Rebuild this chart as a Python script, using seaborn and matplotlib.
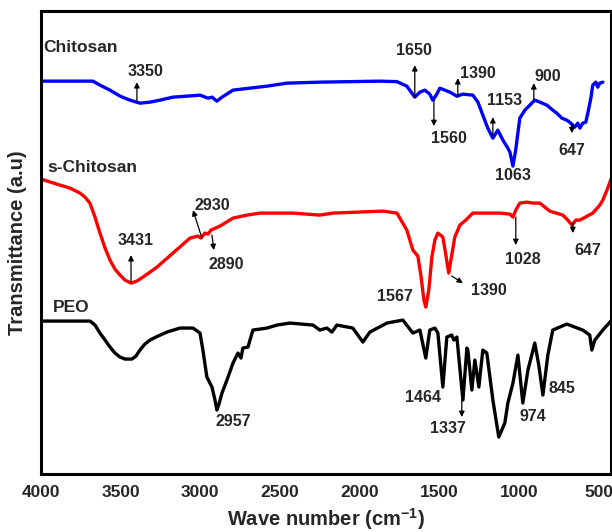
import matplotlib
matplotlib.use("Agg")
import matplotlib.pyplot as plt
import seaborn as sns
import pandas as pd

# ---------------- data ----------------
chitosan_w = [4000, 3674, 3630, 3567, 3504, 3442, 3379, 3316, 3253, 3172, 3084, 3002, 2952, 2927,
              2896, 2864, 2795, 2689, 2582, 2457, 2250, 1873, 1766, 1704, 1654, 1622, 1591, 1560,
              1541, 1516, 1497, 1434, 1390, 1352, 1290, 1258, 1227, 1196, 1164, 1133, 1101, 1070,
              1057, 1038, 1020, 995, 963, 932, 901, 869, 825, 788, 763, 731, 700, 675, 650, 631,
              618, 600, 581, 568, 549, 537, 518, 506, 493, 474]
chitosan_t = [393, 393, 389, 384, 378, 374, 371, 372, 374, 377, 378, 379, 376, 377,
              373, 377, 384, 386, 388, 391, 392, 393, 392.5, 388, 377, 382, 384, 380,
              374, 380, 386, 382, 378, 380, 379, 372, 359, 346, 336, 344, 334, 326,
              322, 308, 325, 356, 364, 369, 374, 372, 369, 364, 361, 356, 354, 351, 347, 351,
              346, 351, 352, 361, 376, 389, 392, 387, 391, 392]

schitosan_w = [4000, 3881, 3818, 3755, 3724, 3693, 3661, 3630, 3598, 3567, 3536, 3504, 3473, 3435,
               3398, 3360, 3316, 3272, 3222, 3172, 3115, 3065, 3015, 2996, 2971, 2952, 2933, 2877,
               2795, 2707, 2626, 2419, 2250, 2168, 1854, 1766, 1704, 1666, 1635, 1616, 1597, 1585,
               1566, 1547, 1528, 1509, 1478, 1459, 1441, 1422, 1403, 1371, 1334, 1290, 1120, 1057,
               1038, 1020, 995, 951, 913, 869, 807, 725, 694, 668, 643, 618, 537, 493, 474, 443, 418]
schitosan_t = [295, 289, 286, 281, 277, 271, 257, 241, 226, 214, 205, 199, 194, 191,
               193, 197, 202, 207, 214, 221, 229, 236, 238, 236, 241, 240, 244, 248,
               256, 259, 261, 261, 259, 261, 263, 261, 244, 224, 218, 199, 174, 167,
               184, 217, 234, 241, 237, 219, 201, 219, 237, 249, 254, 261, 261, 260,
               257, 264, 271, 272, 271, 271, 263, 259, 254, 249, 254, 254, 261, 269, 274, 286, 297]

peo_w = [4000, 3693, 3661, 3630, 3598, 3567, 3536, 3504, 3473, 3429, 3404, 3379, 3348, 3316,
         3266, 3209, 3128, 3046, 3002, 2984, 2959, 2927, 2908, 2896, 2883, 2864, 2833, 2795,
         2764, 2745, 2733, 2701, 2670, 2582, 2519, 2438, 2293, 2250, 2206, 2174, 2143, 2043,
         1980, 1936, 1829, 1729, 1666, 1622, 1585, 1560, 1528, 1509, 1478, 1453, 1422, 1409,
         1390, 1352, 1327, 1321, 1296, 1277, 1252, 1227, 1202, 1164, 1127, 1089, 1070, 1038,
         1007, 976, 944, 901, 876, 850, 819, 788, 700, 600, 556, 543, 524, 474, 418]
peo_t = [153, 153, 149, 141, 134, 127, 121, 117, 115, 115, 118, 124, 130, 134,
         138, 142, 146, 146, 141, 124, 97, 87, 74, 64, 70, 81, 94, 111,
         121, 116, 126, 127, 144, 146, 149, 151, 149, 144, 146, 142, 149, 146,
         132, 142, 151, 154, 141, 144, 116, 144, 146, 141, 87, 137, 139, 134,
         137, 74, 126, 124, 84, 114, 87, 124, 121, 74, 37, 51, 71, 91,
         119, 71, 104, 131, 109, 79, 119, 144, 150, 144, 139, 124, 134, 144, 154]

series_names = ["Chitosan", "s-Chitosan", "PEO"]
series_colors = ["#0000ff", "#ff0000", "#000000"]

xticks = [4000, 3500, 3000, 2500, 2000, 1500, 1000, 500]

# peak labels: (text, label_w, label_t, arrow_tail (w,t) or None, arrow_tip (w,t) or None)
peak_labels = [
    ("3350", 3347, 403, (3398, 373), (3398, 392)),
    ("1650", 1660, 424, (1654, 377), (1654, 409)),
    ("1560", 1440, 336, (1534, 374), (1534, 348)),
    ("1390", 1258, 401, (1384, 377), (1384, 396)),
    ("1153", 1089, 374, (1164, 339), (1164, 357)),
    ("900", 819, 398, (907, 374), (907, 391)),
    ("1063", 1038, 299, None, None),
    ("647", 668, 324, (668, 351), (668, 341)),
    ("3431", 3404, 234, (3435, 192), (3435, 219)),
    ("2930", 2927, 269, (2990, 236), (3046, 264)),
    ("2890", 2839, 210, (2927, 239), (2915, 224)),
    ("1567", 1779, 178, None, None),
    ("1390", 1189, 184, (1422, 198), (1352, 191)),
    ("1028", 976, 215, (1020, 257), (1020, 229)),
    ("647", 568, 224, (662, 251), (662, 241)),
    ("2957", 2795, 53, None, None),
    ("1464", 1603, 77, None, None),
    ("1337", 1447, 46, (1359, 74), (1359, 57)),
    ("974", 913, 58, None, None),
    ("845", 731, 86, None, None),
]

name_positions = [(3987, 427), (3962, 307), (3925, 167)]

# ---------------- plot ----------------
sns.set_style("ticks")
plt.rcParams["font.family"] = ["Liberation Sans", "DejaVu Sans"]
plt.rcParams["font.weight"] = "bold"
plt.rcParams["mathtext.fontset"] = "custom"
plt.rcParams["mathtext.rm"] = "Liberation Sans:bold"
plt.rcParams["mathtext.bf"] = "Liberation Sans:bold"

fig = plt.figure(figsize=(6.12, 5.32), dpi=100)
ax = fig.add_axes([0.067, 0.109, 0.931, 0.870])

frames = [
    pd.DataFrame({"w": chitosan_w, "t": chitosan_t}),
    pd.DataFrame({"w": schitosan_w, "t": schitosan_t}),
    pd.DataFrame({"w": peo_w, "t": peo_t}),
]
for df, c in zip(frames, series_colors):
    line = sns.lineplot(data=df, x="w", y="t", color=c, lw=2.4, ax=ax, sort=False)
for ln in ax.get_lines():
    ln.set_solid_joinstyle("round")
    ln.set_solid_capstyle("round")

for name, (nx, ny) in zip(series_names, name_positions):
    ax.text(nx, ny, name, ha="left", va="center", fontsize=12.5, fontweight="bold")

for txt, lx, ly, tail, tip in peak_labels:
    ax.text(lx, ly, txt, ha="center", va="center", fontsize=11.5, fontweight="bold")
    if tail is not None:
        ax.annotate("", xy=tip, xytext=tail,
                    arrowprops=dict(arrowstyle="-|>", color="black", lw=0.9,
                                    mutation_scale=8, shrinkA=0, shrinkB=0))

ax.set_xlim(4000, 424)
ax.set_ylim(0, 463)
ax.set_xticks(xticks)
ax.set_xticklabels([str(v) for v in xticks], fontsize=12.5, fontweight="bold")
ax.set_yticks([])
ax.tick_params(axis="x", length=0, pad=8)
for s in ax.spines.values():
    s.set_linewidth(2.2)
    s.set_color("black")

ax.set_xlabel("Wave number (cm$^{\\mathbf{-1}}$)", fontsize=14.5, fontweight="bold", labelpad=4)
ax.set_ylabel("Transmittance (a.u)", fontsize=14.5, fontweight="bold", labelpad=10)

fig.savefig("out.png", dpi=100)
